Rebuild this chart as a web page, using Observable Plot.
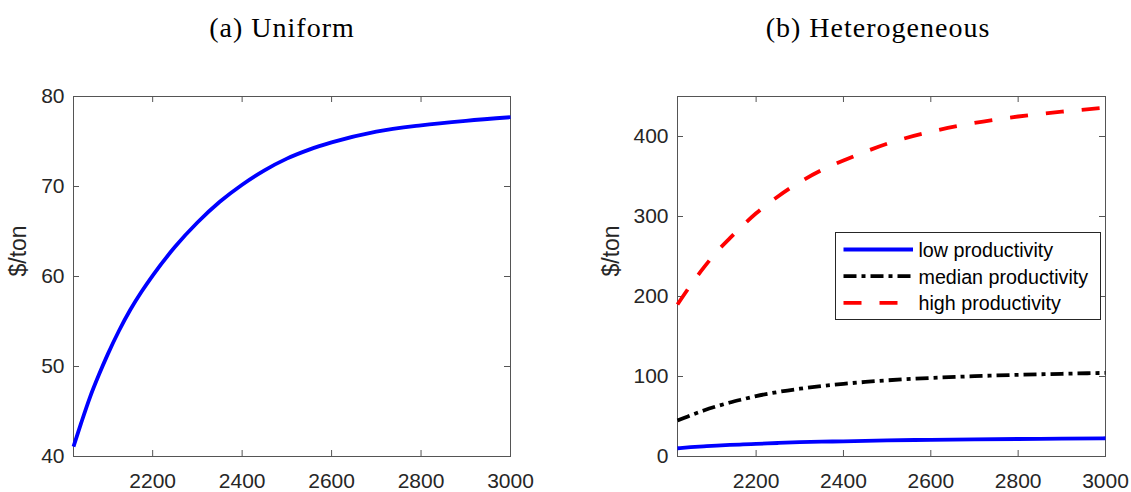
<!DOCTYPE html>
<html><head><meta charset="utf-8">
<script src="https://cdn.jsdelivr.net/npm/d3@7"></script>
<script src="https://cdn.jsdelivr.net/npm/@observablehq/plot@0.6"></script>
<style>
body{margin:0;background:#fff}
#wrap{position:relative;width:1131px;height:492px;font-family:"Liberation Sans",Arial,sans-serif;overflow:hidden}
.title{position:absolute;top:14px;font-family:"Liberation Serif","Times New Roman",serif;font-size:28px;line-height:28px;letter-spacing:1px;transform:translateX(-50%);white-space:nowrap;color:#000}
.panel{position:absolute;top:0}
#legend{position:absolute;left:835px;top:232px;width:264px;height:86px;border:1px solid #262626;background:#fff}
</style></head>
<body>
<div id="wrap">
  <div class="title" id="ta" style="left:282px"></div>
  <div class="title" id="tb" style="left:878px"></div>
  <div class="panel" id="pa" style="left:0px"></div>
  <div class="panel" id="pb" style="left:560px"></div>
  <div id="legend"></div>
</div>
<script>
// ---- data ----
const titles = ["(a) Uniform", "(b) Heterogeneous"];
const yLabel = "$/ton";
const xTicks = [2200, 2400, 2600, 2800, 3000];
const yTicksA = [40, 50, 60, 70, 80];
const yTicksB = [0, 100, 200, 300, 400];

const yearsA = [2023, 2040, 2060, 2080, 2100, 2125, 2150, 2175, 2200, 2250, 2300, 2350, 2400, 2450, 2500, 2550, 2600, 2700, 2800, 2900, 3000];
const uniform = [41.1, 43.7, 46.6, 49.1, 51.4, 54.0, 56.3, 58.3, 60.1, 63.3, 66.0, 68.3, 70.2, 71.8, 73.1, 74.1, 74.9, 76.1, 76.8, 77.3, 77.7];

const yearsB = [2020, 2050, 2080, 2110, 2140, 2170, 2200, 2250, 2300, 2350, 2400, 2450, 2500, 2600, 2700, 2800, 2900, 3000];
const lowProd = [10.3, 11.6, 12.7, 13.7, 14.5, 15.1, 15.7, 16.9, 17.9, 18.5, 19.0, 19.6, 20.1, 20.9, 21.5, 21.9, 22.4, 22.8];
const medianProd = [45, 51.5, 57.5, 62.8, 67.5, 71.6, 75.5, 80.6, 84.7, 88, 90.8, 93.2, 95.2, 98.2, 100.4, 102.1, 103.4, 104.5];
const highProd = [190, 214, 236, 256, 273, 289, 304, 325, 343, 358, 370, 381, 391, 406, 417, 425, 431, 436];

const seriesNames = ["low productivity", "median productivity", "high productivity"];
const seriesColors = ["#0000ff", "#000000", "#ff0000"];
const seriesDash = [null, "13,5,4,5", "18,18"];

// ---- drawing ----
document.getElementById("ta").textContent = titles[0];
document.getElementById("tb").textContent = titles[1];

const FONT = '"Liberation Sans", Arial, Helvetica, sans-serif';
const axisColor = "#555";
const textColor = "#262626";
const H = 492;

function panel({width, marginLeft, marginRight, xDomain, yDomain, yTicks, labelDx, lines}) {
  const marginTop = 96, marginBottom = 36;
  const pw = width - marginLeft - marginRight;
  const ph = H - marginTop - marginBottom;
  return Plot.plot({
    width, height: H, marginLeft, marginRight, marginTop, marginBottom,
    style: {fontFamily: FONT, fontSize: "21px", color: textColor, background: "transparent", overflow: "visible"},
    x: {domain: xDomain, label: null},
    y: {domain: yDomain, label: null},
    marks: [
      Plot.frame({stroke: axisColor, strokeWidth: 1}),
      Plot.tickX(xTicks, {x: d => d, insetTop: ph - 6, stroke: axisColor}),
      Plot.tickX(xTicks, {x: d => d, insetBottom: ph - 6, stroke: axisColor}),
      Plot.tickY(yTicks, {y: d => d, insetRight: pw - 6, stroke: axisColor}),
      Plot.tickY(yTicks, {y: d => d, insetLeft: pw - 6, stroke: axisColor}),
      Plot.axisX(xTicks, {tickSize: 0, tickPadding: 17, fontSize: 21, fill: textColor, label: null, tickFormat: d => String(d)}),
      Plot.axisY(yTicks, {tickSize: 0, tickPadding: 9, fontSize: 21, fill: textColor, label: null, tickFormat: d => String(d)}),
      Plot.text([yLabel], {text: d => d, frameAnchor: "left", rotate: -90, dx: labelDx, fontSize: 23, fill: textColor}),
      ...lines.map(s => Plot.line(s.years.map((t, i) => ({t, v: s.values[i]})), {
        x: "t", y: "v", stroke: s.color, strokeWidth: 3.8, curve: "monotone-x",
        strokeDasharray: s.dash, strokeLinecap: "butt", strokeLinejoin: "round"
      }))
    ]
  });
}

document.getElementById("pa").append(panel({
  width: 560, marginLeft: 73, marginRight: 50,
  xDomain: [2023, 3000], yDomain: [40, 80], yTicks: yTicksA, labelDx: -54.7,
  lines: [{years: yearsA, values: uniform, color: "#0000ff", dash: null}]
}));

document.getElementById("pb").append(panel({
  width: 571, marginLeft: 117, marginRight: 26,
  xDomain: [2020, 3000], yDomain: [0, 450], yTicks: yTicksB, labelDx: -65.5,
  lines: [
    {years: yearsB, values: lowProd, color: seriesColors[0], dash: seriesDash[0]},
    {years: yearsB, values: medianProd, color: seriesColors[1], dash: seriesDash[1]},
    {years: yearsB, values: highProd, color: seriesColors[2], dash: seriesDash[2]}
  ]
}));

// legend
const lg = d3.select("#legend").append("svg").attr("width", 264).attr("height", 86)
  .style("position", "absolute").style("left", 0).style("top", 0);
seriesNames.forEach((name, i) => {
  const ly = 16.5 + i * 26.7;
  lg.append("line").attr("x1", 7.5).attr("x2", 77).attr("y1", ly).attr("y2", ly)
    .attr("stroke", seriesColors[i]).attr("stroke-width", 3.8)
    .attr("stroke-dasharray", seriesDash[i]);
  lg.append("text").attr("x", 82.5).attr("y", 24 + i * 26.7)
    .attr("font-family", FONT).attr("font-size", 19.7).attr("fill", "#000").text(name);
});
</script>
</body></html>
